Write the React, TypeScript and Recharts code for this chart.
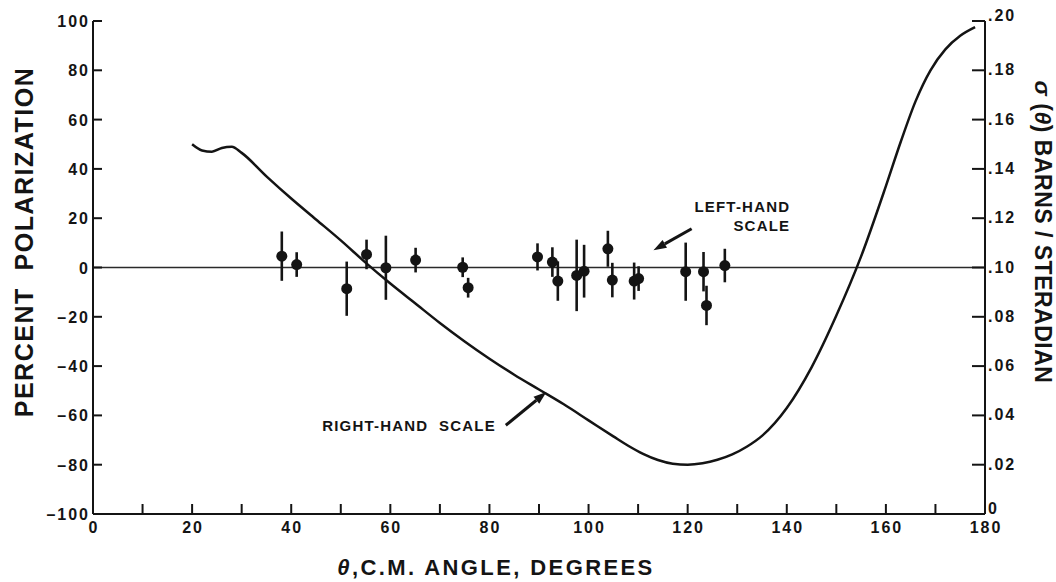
import React from "react";
import {
  ComposedChart,
  Line,
  Scatter,
  ErrorBar,
  XAxis,
  YAxis,
  ReferenceLine,
  ReferenceDot,
} from "recharts";

const INK = "#141414";
const FONT = "'Liberation Sans', Arial, sans-serif";

// measured polarization: c.m. angle (deg), percent polarization, error (±%)
const angles = [38.1, 41.1, 51.2, 55.2, 59.1, 65.1, 74.6, 75.7, 89.7, 92.7, 93.8, 97.6, 99.1, 103.9, 104.8, 109.2, 110.1, 119.6, 123.2, 123.8, 127.5];
const polarization = [4.6, 1.2, -8.6, 5.3, -0.1, 3.0, 0.1, -8.2, 4.3, 2.2, -5.5, -3.2, -1.5, 7.6, -5.1, -5.5, -4.5, -1.7, -1.7, -15.4, 0.8];
const errors = [10, 5, 11, 6, 13, 5, 4, 4, 5.5, 6, 8, 14.5, 10.7, 7.3, 7, 7.5, 5, 11.8, 8, 8, 6.8];

// differential cross section curve (barns / steradian)
const curveAngles = [20, 22, 24, 26, 28, 30, 35, 40, 45, 50, 55, 60, 65, 70, 75, 80, 85, 90, 95, 100, 105, 108, 111, 114, 117, 120, 123, 126, 129, 132, 135, 140, 145, 150, 155, 160, 163, 166, 169, 172, 175, 178];
const sigma = [0.150, 0.1475, 0.147, 0.1485, 0.149, 0.1465, 0.137, 0.128, 0.1195, 0.111, 0.102, 0.0935, 0.0855, 0.0775, 0.070, 0.063, 0.0565, 0.0505, 0.0445, 0.038, 0.0315, 0.0277, 0.0244, 0.0219, 0.0204, 0.020, 0.0206, 0.022, 0.0242, 0.0274, 0.0317, 0.043, 0.0595, 0.0805, 0.1045, 0.133, 0.151, 0.1675, 0.180, 0.1885, 0.194, 0.1975];

const angleTicks = [0, 10, 20, 30, 40, 50, 60, 70, 80, 90, 100, 110, 120, 130, 140, 150, 160, 170, 180];
const percentTicks = [-100, -80, -60, -40, -20, 0, 20, 40, 60, 80, 100];
const sigmaTicks = [0, 0.02, 0.04, 0.06, 0.08, 0.1, 0.12, 0.14, 0.16, 0.18, 0.2];

const points = angles.map((deg, i) => ({ deg, pol: polarization[i], err: errors[i] }));
const curve = curveAngles.map((deg, i) => ({ deg, sigma: sigma[i] }));

const tickText = {
  fontFamily: FONT,
  fontWeight: 700,
  fontSize: 16,
  letterSpacing: 2,
  fill: INK,
};

const BottomTick = (p: any) => {
  const v = p.payload.value;
  return (
    <g>
      <line x1={p.x} x2={p.x} y1={p.y} y2={p.y - 10} stroke={INK} strokeWidth={2} />
      {v % 20 === 0 && (
        <text x={p.x + 1} y={p.y + 19} textAnchor="middle" {...tickText}>
          {v}
        </text>
      )}
    </g>
  );
};

const TopTick = (p: any) => (
  <line x1={p.x} x2={p.x} y1={p.y} y2={p.y + 10} stroke={INK} strokeWidth={2} />
);

const LeftTick = (p: any) => {
  const v = p.payload.value;
  const label = v < 0 ? "\u2013" + Math.abs(v) : String(v);
  return (
    <g>
      <line x1={p.x} x2={p.x + 9} y1={p.y} y2={p.y} stroke={INK} strokeWidth={2} />
      <text x={p.x - 3} y={p.y + 6} textAnchor="end" {...tickText}>
        {label}
      </text>
    </g>
  );
};

const RightTick = (p: any) => {
  const v = p.payload.value;
  const label = v === 0 ? "0" : "." + String(Math.round(v * 100)).padStart(2, "0");
  const dy = v === 0 || v === 0.2 ? 0 : 5;
  return (
    <g>
      <line x1={p.x} x2={p.x - 13} y1={p.y} y2={p.y} stroke={INK} strokeWidth={2} />
      <text x={p.x + 3} y={p.y + dy} textAnchor="start" {...tickText}>
        {label}
      </text>
    </g>
  );
};

// arrow from (x1,y1) to a head at (x2,y2)
const Arrow = (p: any) => {
  const { x1, y1, x2, y2 } = p;
  const a = Math.atan2(y2 - y1, x2 - x1);
  const len = 13;
  const w = 4.5;
  const bx = x2 - len * Math.cos(a);
  const by = y2 - len * Math.sin(a);
  const nx = -Math.sin(a) * w;
  const ny = Math.cos(a) * w;
  return (
    <g>
      <line x1={x1} y1={y1} x2={bx} y2={by} stroke={INK} strokeWidth={3} />
      <polygon points={`${x2},${y2} ${bx + nx},${by + ny} ${bx - nx},${by - ny}`} fill={INK} />
    </g>
  );
};

const noteText = {
  fontFamily: FONT,
  fontWeight: 700,
  fontSize: 15,
  letterSpacing: 1.2,
  fill: INK,
};

const Note = (lines: string[]) => (p: any) => (
  <text x={p.cx} y={p.cy} textAnchor="end" {...noteText} style={{ whiteSpace: "pre" }}>
    {lines.map((s, i) => (
      <tspan key={i} x={p.cx} dy={i === 0 ? 0 : 19}>
        {s}
      </tspan>
    ))}
  </text>
);

const Dot = (p: any) => <circle cx={p.cx} cy={p.cy} r={5.5} fill={INK} />;

export default function App() {
  return (
    <div
      style={{
        position: "absolute",
        left: 0,
        top: 0,
        width: 1056,
        height: 582,
        background: "#fff",
        fontFamily: FONT,
      }}
    >
      <ComposedChart width={1056} height={582} margin={{ top: 21, right: 0, bottom: 0, left: 0 }}>
        <XAxis
          xAxisId="bottom"
          dataKey="deg"
          type="number"
          domain={[0, 180]}
          ticks={angleTicks}
          interval={0}
          height={68}
          tickSize={0}
          tickMargin={0}
          tick={BottomTick}
          axisLine={{ stroke: INK, strokeWidth: 2 }}
          allowDataOverflow
        />
        <XAxis
          xAxisId="top"
          orientation="top"
          type="number"
          domain={[0, 180]}
          ticks={angleTicks}
          interval={0}
          height={0}
          tickSize={0}
          tickMargin={0}
          tick={TopTick}
          axisLine={{ stroke: INK, strokeWidth: 2 }}
          allowDataOverflow
        />
        <YAxis
          yAxisId="left"
          dataKey="pol"
          type="number"
          domain={[-100, 100]}
          ticks={percentTicks}
          interval={0}
          width={93}
          tickSize={0}
          tickMargin={0}
          tick={LeftTick}
          axisLine={{ stroke: INK, strokeWidth: 2 }}
          allowDataOverflow
        />
        <YAxis
          yAxisId="right"
          orientation="right"
          type="number"
          domain={[0, 0.2]}
          ticks={sigmaTicks}
          interval={0}
          width={71}
          tickSize={0}
          tickMargin={0}
          tick={RightTick}
          axisLine={{ stroke: INK, strokeWidth: 2 }}
          allowDataOverflow
        />

        <ReferenceLine xAxisId="bottom" yAxisId="left" y={0} stroke="#2a2a2a" strokeWidth={1.5} />

        <Line
          xAxisId="bottom"
          yAxisId="right"
          data={curve}
          dataKey="sigma"
          type="monotone"
          stroke={INK}
          strokeWidth={2.5}
          dot={false}
          isAnimationActive={false}
        />

        <Scatter
          xAxisId="bottom"
          yAxisId="left"
          data={points}
          dataKey="pol"
          shape={Dot}
          isAnimationActive={false}
        >
          <ErrorBar dataKey="err" direction="y" width={0} stroke={INK} strokeWidth={2.6} isAnimationActive={false} />
        </Scatter>

        <ReferenceLine
          xAxisId="bottom"
          yAxisId="left"
          segment={[{ x: 120.8, y: 15.7 }, { x: 113.1, y: 7.0 }]}
          shape={Arrow}
        />
        <ReferenceDot xAxisId="bottom" yAxisId="left" x={140.7} y={22.7} r={0} shape={Note(["LEFT-HAND", "SCALE"])} />

        <ReferenceLine
          xAxisId="bottom"
          yAxisId="left"
          segment={[{ x: 83.3, y: -64 }, { x: 91.5, y: -50.5 }]}
          shape={Arrow}
        />
        <ReferenceDot xAxisId="bottom" yAxisId="left" x={81.3} y={-66.5} r={0} shape={Note(["RIGHT-HAND  SCALE"])} />
      </ComposedChart>

      <svg
        width={1056}
        height={582}
        style={{ position: "absolute", left: 0, top: 0, pointerEvents: "none" }}
      >
        <text
          x={496}
          y={575}
          textAnchor="middle"
          fontFamily={FONT}
          fontWeight={700}
          fontSize={22}
          letterSpacing={2.4}
          fill={INK}
        >
          <tspan fontStyle="italic">θ</tspan>,C.M. ANGLE, DEGREES
        </text>
        <text
          transform="translate(24 242) rotate(-90)"
          textAnchor="middle"
          dominantBaseline="central"
          fontFamily={FONT}
          fontWeight={700}
          fontSize={25}
          letterSpacing={1.5}
          fill={INK}
          style={{ whiteSpace: "pre" }}
        >
          PERCENT  POLARIZATION
        </text>
        <text
          transform="translate(1043 232) rotate(90)"
          textAnchor="middle"
          dominantBaseline="central"
          fontFamily={FONT}
          fontWeight={700}
          fontSize={23}
          letterSpacing={0.5}
          fill={INK}
        >
          <tspan fontStyle="italic">σ</tspan> (<tspan fontStyle="italic">θ</tspan>) BARNS / STERADIAN
        </text>
      </svg>
    </div>
  );
}
